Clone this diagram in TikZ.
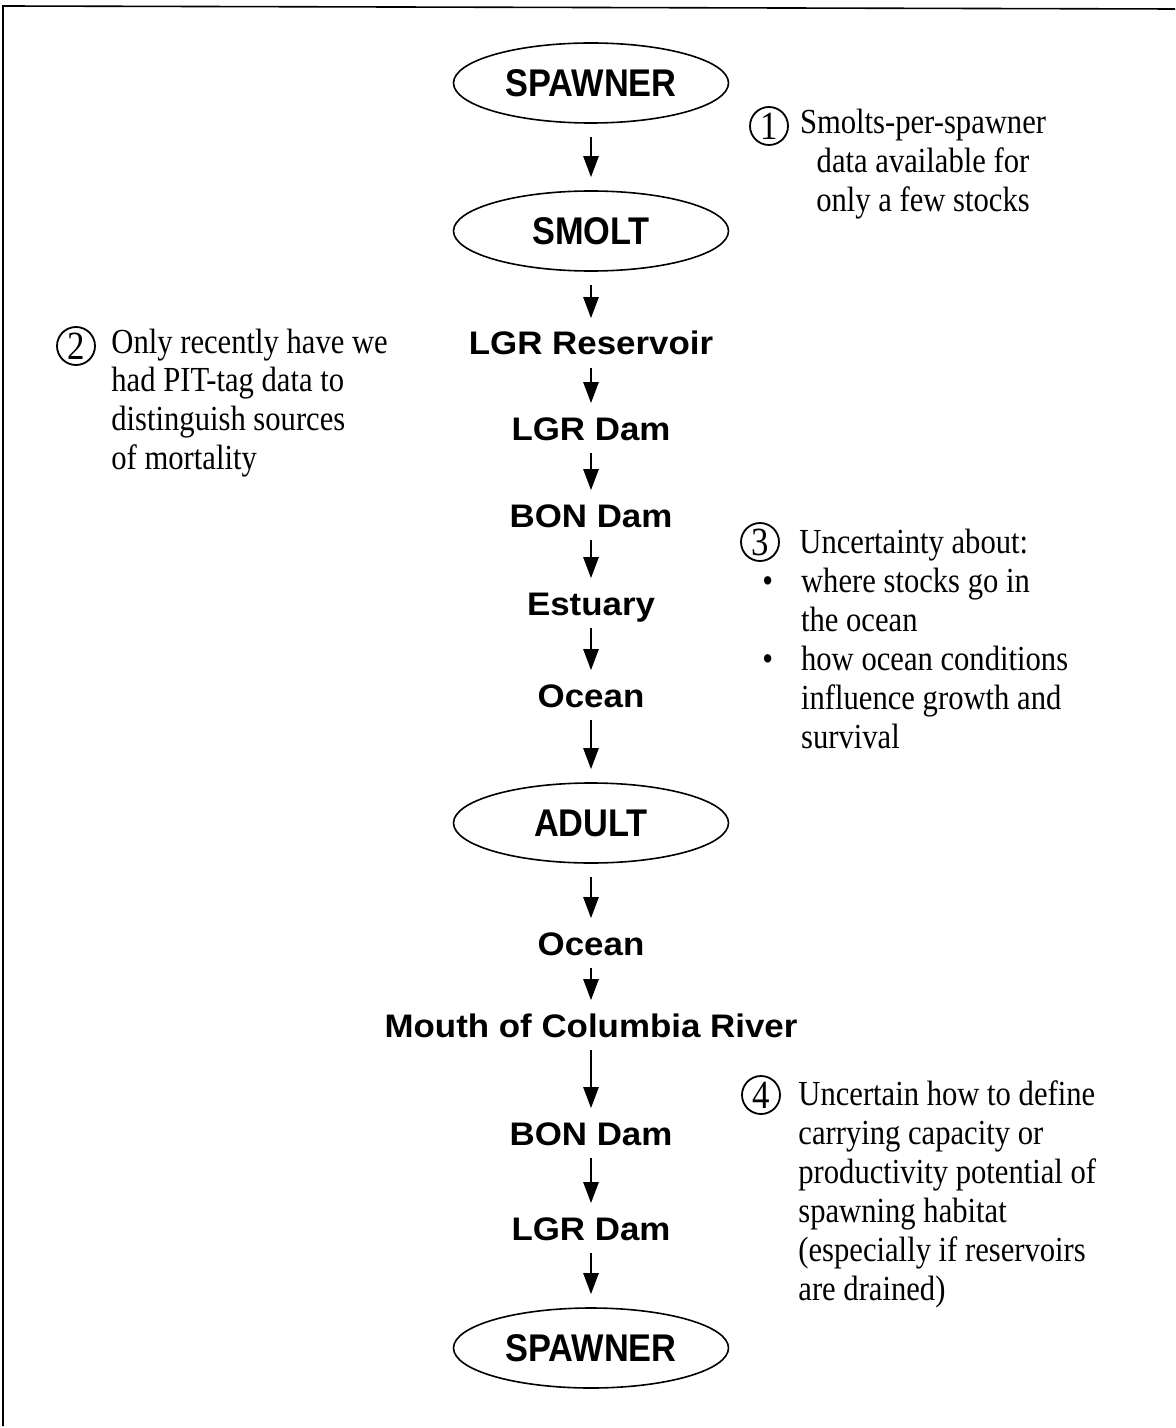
\documentclass[tikz,border=0pt]{standalone}
\usepackage{fontspec}
\setmainfont{Liberation Serif}
\newfontfamily\stagefont[FakeStretch=1.07]{Liberation Sans}
\newfontfamily\lifefont[FakeStretch=0.89]{Liberation Sans}
\newfontfamily\notefont[FakeStretch=0.87]{Liberation Serif}
\usetikzlibrary{shapes.geometric,arrows.meta}

\begin{document}
\begin{tikzpicture}[x=0.5pt,y=-0.5pt,
					every node/.append style={inner sep=0pt},
					lifestage/.style={ellipse,draw,line width=0.8pt,minimum width=137.5pt,minimum height=40pt,
						font=\lifefont\bfseries\fontsize{19.3}{22}\selectfont},
					habitat/.style={anchor=base,text height=11.7pt,text depth=0pt,
						font=\stagefont\bfseries\fontsize{16.3}{19}\selectfont},
					note/.style={anchor=base west,font=\notefont\fontsize{17.6}{19.5}\selectfont},
					notenum/.style={circle,draw,line width=0.9pt,minimum size=19pt,
						font=\notefont\fontsize{20}{19.5}\selectfont}]
					\useasboundingbox (0,0) rectangle (1175,1428);
					\draw[line width=0.8pt] (3,1426) -- (3,6) -- (1175,9);
					\node[lifestage] (spawnerd) at (591,83) {SPAWNER};
					\node[lifestage] (smolt) at (591,231) {SMOLT};
					\node[habitat] (lgrres) at (591,355) {LGR Reservoir};
					\node[habitat] (lgrdamd) at (591,440) {LGR Dam};
					\node[habitat] (bondamd) at (591,527) {BON Dam};
					\node[habitat] (estuary) at (591,615) {Estuary};
					\node[habitat] (oceand) at (591,707) {Ocean};
					\node[lifestage] (adult) at (591,823) {ADULT};
					\node[habitat] (oceanu) at (591,955) {Ocean};
					\node[habitat] (mouth) at (591,1037) {Mouth of Columbia River};
					\node[habitat] (bondamu) at (591,1145) {BON Dam};
					\node[habitat] (lgrdamu) at (591,1240) {LGR Dam};
					\node[lifestage] (spawneru) at (591,1348) {SPAWNER};
					\begin{scope}[-{Triangle[length=10.5pt,width=7.5pt]}, line width=1.25pt, shorten <=6.5pt, shorten >=6.5pt]
					\draw (spawnerd) -- (smolt);
					\draw (smolt) -- (lgrres);
					\draw (lgrres) -- (lgrdamd);
					\draw (lgrdamd) -- (bondamd);
					\draw (bondamd) -- (estuary);
					\draw (estuary) -- (oceand);
					\draw (oceand) -- (adult);
					\draw (adult) -- (oceanu);
					\draw (oceanu) -- (mouth);
					\draw (mouth) -- (bondamu);
					\draw (bondamu) -- (lgrdamu);
					\draw (lgrdamu) -- (spawneru);
					\end{scope}
					\node[notenum] (num1) at (769,126) {1};
					\node[note,anchor=base] (smoltdata) at (923,134) {\begin{tabular}[t]{@{}c@{}}Smolts-per-spawner\\data available for\\only a few stocks\end{tabular}};
					\node[notenum] (num2) at (76,346) {2};
					\node[note] (pittag) at (111,353) {\begin{tabular}[t]{@{}l@{}}Only recently have we\\had PIT-tag data to\\distinguish sources\\of mortality\end{tabular}};
					\node[notenum] (num3) at (760,542) {3};
					\node[note] (oceanhead) at (799,553) {Uncertainty about:};
					\node[note] (oceanlist) at (762,592) {\begin{tabular}[t]{@{}l@{\hspace{14pt}}l@{}}\textbullet & where stocks go in\\ & the ocean\\\textbullet & how ocean conditions\\ & influence growth and\\ & survival\end{tabular}};
					\node[notenum] (num4) at (761,1095) {4};
					\node[note] (capacity) at (798,1105) {\begin{tabular}[t]{@{}l@{}}Uncertain how to define\\carrying capacity or\\productivity potential of\\spawning habitat\\(especially if reservoirs\\are drained)\end{tabular}};
					\end{tikzpicture}
\end{document}
